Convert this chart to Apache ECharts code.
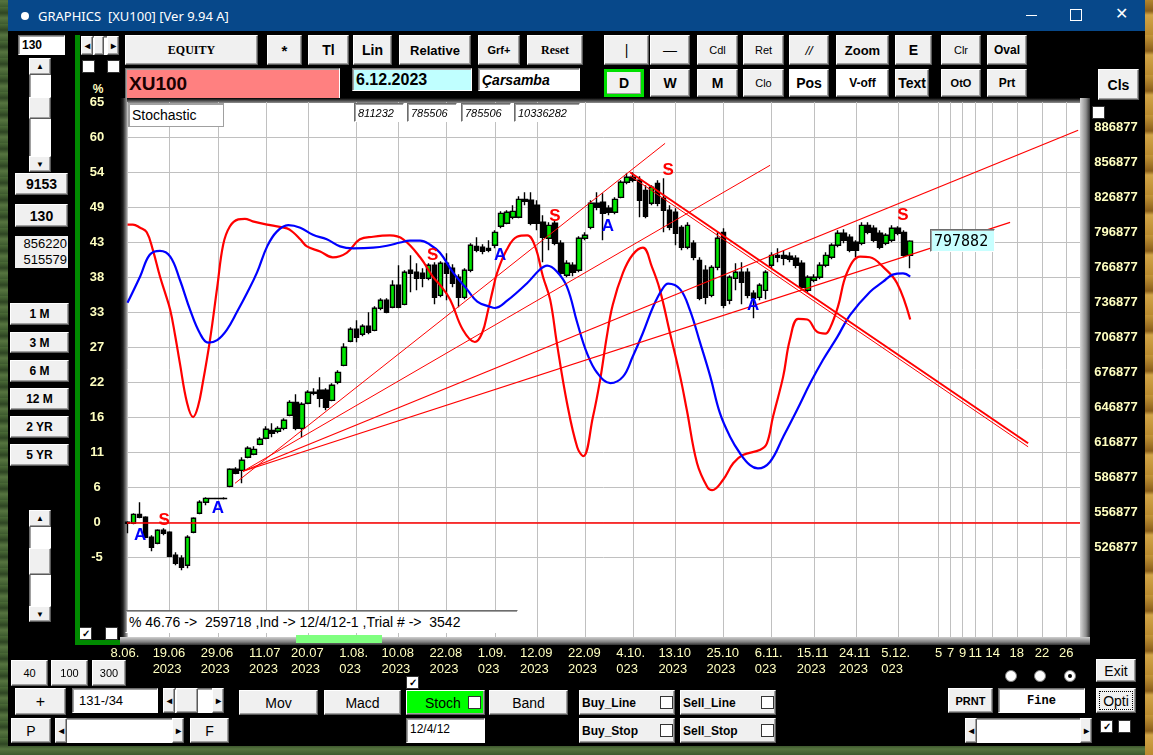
<!DOCTYPE html>
<html><head><meta charset="utf-8">
<script src="https://cdn.jsdelivr.net/npm/echarts@6/dist/echarts.min.js"></script>
<style>
html,body{margin:0;padding:0;width:1153px;height:755px;overflow:hidden;background:#000;}
#desk{position:absolute;left:0;top:0;width:1153px;height:755px;
 background:repeating-linear-gradient(0deg,#3d5a2e 0,#56743f 6px,#2e4523 11px,#4a6a36 17px);}
#rightdesk{position:absolute;left:1145px;top:0;width:8px;height:755px;
 background:repeating-linear-gradient(0deg,#b98a2f 0,#d1a447 20px,#8a5f1a 24px,#c49638 40px);}
#win{position:absolute;left:8px;top:0;width:1137px;height:746px;background:#000;}
#title{position:absolute;left:8px;top:0;width:1137px;height:31px;background:#07488a;color:#fff;}
#ui{position:absolute;left:0;top:0;width:1153px;height:755px;z-index:1;}
#chart{position:absolute;left:0;top:0;width:1153px;height:755px;z-index:5;}
#ov{position:absolute;left:0;top:0;width:1153px;height:755px;z-index:6;pointer-events:none;}
.b,.x,.f,.c{position:absolute;box-sizing:border-box;display:flex;align-items:center;justify-content:center;
 font:bold 13px 'Liberation Sans',Arial,sans-serif;color:#000;white-space:pre;overflow:hidden;}
.b{background:#f0f0f0;border:1px solid;border-color:#ffffff #5a5a5a #5a5a5a #ffffff;box-shadow:inset -1px -1px 0 #a0a0a0;}
.x{background:#fff;border:1px solid;border-color:#6d6d6d #ffffff #ffffff #6d6d6d;box-shadow:inset 1px 1px 0 #a0a0a0;justify-content:flex-start;padding-left:3px;}
.f{background:#f0f0f0;}
.c{background:#fff;border:1px solid #333;font-size:10px;line-height:10px;}
.r{position:absolute;box-sizing:border-box;border-radius:50%;background:#fff;border:1px solid #808080;}
</style></head>
<body>
<div id="desk"></div><div id="rightdesk"></div>
<div id="win"></div>
<div id="title">
 <div style="position:absolute;left:13px;top:12px;width:8px;height:8px;border-radius:50%;background:#fff;"></div>
 <div style="position:absolute;left:30px;top:7px;font:13px 'Noto Sans','Open Sans',sans-serif;white-space:pre;">GRAPHICS  [XU100] [Ver 9.94 A]</div>
 <div style="position:absolute;left:1018px;top:15px;width:11px;height:1px;background:#fff;"></div>
 <div style="position:absolute;left:1062px;top:9px;width:10px;height:10px;border:1px solid #fff;"></div>
 <div style="position:absolute;left:1107px;top:4px;font:16px 'DejaVu Sans',sans-serif;color:#fff;">✕</div>
</div>
<div id="ui"></div>
<div id="chart"></div>
<div id="ov"></div>
<script>
// ===== DATA =====
// one bar per trading day from 8.06.2023 (bar index 0) to 6.12.2023 (bar index 130)
const opens  = [556900,556000,563700,561200,544000,538900,550000,548300,528600,526000,520000,548300,564600,574000,577400,577300,577400,587700,602300,601400,612600,615200,623700,628900,635700,634900,637400,648600,659700,637400,658900,668300,670000,670000,661400,676900,691400,712000,722300,718000,724900,721400,740300,747200,741200,760000,743700,772900,771200,770300,766000,777200,751400,778900,774600,766900,749700,772900,793400,792600,791700,794300,810600,813200,818300,818300,833700,832900,828600,814000,800300,813200,796000,768600,777200,772900,800300,809700,830300,831200,826000,822600,835400,848300,852600,850000,841400,830300,847400,834600,824300,822600,809700,792600,796000,781400,772900,751400,775400,805400,747200,766000,771200,771200,753200,749700,755700,777200,785700,785700,784900,783200,778900,755700,764300,766900,777200,784000,794300,804600,801200,796900,796000,811400,808900,804600,796000,798600,808900,805400,785700];
const closes = [556000,563700,561200,544000,535400,550000,547400,527700,521700,518300,544000,560300,574000,577400,577300,577400,577300,602300,598900,610000,620300,619400,628000,636600,633200,637400,644300,659700,637400,658000,668300,667400,663200,655400,674300,685400,706900,722300,715400,724900,719700,740300,747200,736900,760000,741200,771200,770300,766000,766000,777200,749700,778900,770300,761700,749700,772900,794300,790000,789200,790000,805400,821700,822600,823400,833700,832000,813200,813200,801200,811400,796000,770300,778900,771200,800300,802900,830300,826900,821700,822600,833700,848300,852600,850000,832900,819200,844000,830300,824300,809700,804600,792600,811400,784000,748900,749700,775400,800300,742900,766900,771200,762600,751400,748900,760000,771200,785700,784000,783200,782300,777200,758300,766900,766900,777200,785700,794300,804600,798600,790000,790000,811400,805400,798600,792600,802900,808900,804600,785700,797882];
const highs  = [557700,564600,574000,562000,545700,550900,551700,549200,531200,528600,545700,561200,575700,578300,577900,577900,578300,603200,604000,612600,622000,622000,629700,639200,641700,639200,646000,661400,666600,659700,670000,671700,681200,671700,676000,687200,710300,724000,730000,726600,736900,742000,748900,748900,764300,777200,772900,785700,778900,774600,778900,779700,780600,787400,778000,769400,774600,796000,801200,795200,798600,807200,823400,824300,828600,836300,839700,839700,832900,820000,814000,815700,798600,781400,779700,802000,805400,832900,839700,838900,828600,835400,850000,856000,856900,853400,845700,845700,850000,851700,828600,826000,811400,814000,798600,784000,777200,777200,805400,808900,768600,778900,779700,774600,755700,761700,772900,788300,791700,790000,788300,785700,781400,768600,769400,779700,788300,796000,807200,808000,803700,798600,814000,814000,811400,807200,804600,811400,810600,807200,798600];
const lows   = [547400,555200,560300,543200,532000,538000,545700,526900,520000,515700,517400,547400,563700,571400,577000,577000,576500,586900,598000,590300,611700,614300,622900,628000,629700,633200,635700,647700,635700,629700,658000,665700,655400,652900,660600,675200,690600,711200,711200,716300,718000,720600,738600,736000,740300,740300,742900,754000,755700,758300,764300,743700,749700,747200,758300,741200,748000,771200,788300,786600,788300,791700,808900,812300,816600,817400,828600,811400,807200,779700,790000,794300,767700,766900,767700,771200,798600,808000,824300,798600,820000,820900,834600,846600,848300,818300,817400,828600,827700,805400,807200,794300,790000,790900,781400,747200,743700,749700,772900,740300,743700,755700,743700,748900,731700,747200,748000,774600,779700,777200,779700,774600,755700,754000,762600,765200,775400,782300,792600,796000,788300,784000,794300,803700,796900,790900,794300,796900,802900,784000,774600];
// Stochastic lines: [bar index, %]
const stochRed = [[0,46.4],[0.9,46.4],[2.1,45.9],[3.2,45.2],[4.2,42.5],[5.4,38.3],[6.2,35.9],[7.1,33.1],[7.9,29.2],[8.7,24.8],[9.9,18.6],[10.9,16.4],[11.7,18.0],[12.5,21.7],[13.7,28.4],[14.9,36.6],[15.9,43.3],[17.0,46.1],[18.4,47.2],[19.5,47.3],[20.8,46.9],[23.7,46.3],[26.5,45.8],[27.5,45.2],[28.7,44.1],[29.8,43.0],[32.0,42.2],[34.1,41.3],[36.4,42.0],[38.6,44.1],[40.8,44.5],[43.6,44.7],[45.8,44.1],[48.6,41.3],[50.7,38.3],[51.9,37.0],[53.6,34.7],[55.7,30.0],[57.7,28.1],[58.9,29.5],[59.9,33.1],[60.7,36.3],[61.4,38.9],[63.0,42.5],[64.7,44.5],[66.4,44.7],[67.7,43.0],[69.0,38.3],[70.2,34.7],[71.3,28.0],[73.0,18.6],[74.7,11.7],[75.7,10.3],[77.3,16.4],[78.5,22.2],[79.6,28.9],[80.6,33.9],[82.3,38.9],[83.9,41.7],[85.6,42.8],[87.1,39.8],[88.4,36.3],[90.1,29.5],[91.8,22.7],[92.9,17.5],[94.6,9.2],[96.3,5.5],[97.1,5.0],[98.9,6.6],[100.6,9.2],[102.2,10.5],[105.1,11.3],[106.2,12.3],[107.2,16.4],[108.9,22.7],[110.0,28.4],[111.4,31.7],[112.9,31.6],[114.5,29.7],[115.9,29.4],[116.7,30.3],[118.0,33.6],[119.5,38.9],[121.7,41.4],[123.3,41.3],[125.5,39.8],[127.8,37.3],[130.0,31.6]];
const stochBlue = [[0,34.2],[2.1,38.3],[3.7,41.7],[5.4,42.3],[7.1,41.4],[8.7,37.8],[10.4,33.1],[12.0,29.5],[13.4,28.0],[14.9,28.4],[16.5,30.0],[18.2,32.8],[19.9,35.8],[21.5,38.9],[23.2,43.0],[24.8,45.3],[26.7,46.3],[28.7,45.9],[30.8,44.8],[33.1,44.1],[35.3,43.0],[37.5,42.7],[40.8,42.8],[43.1,43.1],[45.3,43.6],[46.9,43.9],[48.6,43.9],[50.2,43.3],[51.9,42.0],[54.1,38.9],[56.4,36.3],[58.1,34.4],[60.2,33.6],[61.0,33.4],[63.0,34.5],[66.4,37.3],[68.5,39.4],[69.7,40.0],[71.3,39.1],[73.0,36.7],[74.7,31.1],[76.3,26.4],[78.0,23.3],[80.2,21.7],[82.3,22.7],[83.9,25.8],[85.6,29.5],[87.3,33.6],[88.8,36.3],[89.8,37.2],[91.8,36.3],[93.4,33.1],[95.1,28.0],[96.8,22.7],[98.4,17.0],[100.1,13.3],[101.7,10.8],[103.4,8.9],[104.7,8.4],[106.7,9.4],[108.9,13.3],[111.2,17.5],[113.4,21.7],[115.5,25.3],[117.9,28.9],[120.0,32.3],[123.3,35.9],[125.5,37.5],[127.1,38.6],[128.8,38.8],[130.0,38.3]];
// Signal markers: [bar index, price]
const buyMarks  = [[2.1,545700],[15.0,568900],[61.9,785700],[79.8,810600],[103.9,742900]];
const sellMarks = [[6.1,558600],[50.7,785700],[71.0,819200],[89.8,858600],[128.8,820000]];
// Drawn trend lines: [start bar, start price, end bar, end price, width]
const trendLines = [
  [17.86,590300,89.29,881700,1],
  [19.19,600600,106.73,862900,1],
  [19.19,600600,157.89,892900,1.2],
  [19.19,600600,146.59,814000,1.2],
  [83.47,856900,149.58,624600,2],
  [83.47,853900,149.58,621600,1]
];
// Axis ticks / labels
const priceTicks = [886877,856877,826877,796877,766877,736877,706877,676877,646877,616877,586877,556877,526877];
const pctLabels = ['65','60','54','49','43','38','33','27','22','16','11','6','0','-5'];
const gridIdx = [0,7,15,23,30,38,45,53,61,68,76,84,91,99,107,114,121,128,134.7,136.7,138.7,140.8,143.7,147.7,151.9,155.9];
const dateRow1 = ['8.06.','19.06','29.06','11.07','20.07','1.08.','10.08','22.08','1.09.','12.09','22.09','4.10.','13.10','25.10','6.11.','15.11','24.11','5.12.','5','7','9','11','14','18','22','26'];
const dateRow2 = ['23','2023','2023','2023','2023','023','2023','2023','023','2023','2023','023','2023','2023','023','2023','2023','023','','','','','','','',''];

// ===== UI CHROME =====
const UI = document.getElementById('ui'), OV = document.getElementById('ov');
function el(parent, cls, x, y, w, h, txt, css){
  const d = document.createElement('div'); d.className = cls;
  d.style.cssText = 'left:'+x+'px;top:'+y+'px;width:'+w+'px;height:'+h+'px;'+(css||'');
  if (txt != null) d.textContent = txt; parent.appendChild(d); return d;
}
const NB = 'font-weight:normal;';
const buttons = [
 ['EQUITY',125,35,133,30,"font:bold 12px 'Liberation Serif',serif;"],['*',267,35,35,30,'font-size:15px;'],
 ['Tl',308,35,41,30,'font-size:14px;'],['Lin',353,35,39,30,'font-size:14px;'],['Relative',399,35,72,30,'font-size:13px;'],
 ['Grf+',478,35,42,30,'font-size:11px;'],['Reset',527,35,56,30,"font:bold 12px 'Liberation Serif',serif;"],
 ['|',604,35,45,30,NB+'font-size:14px;'],['—',650,35,40,30,NB+'font-size:14px;'],['Cdl',697,35,41,30,NB+'font-size:11px;'],
 ['Ret',743,35,41,30,NB+'font-size:11px;'],['//',789,35,40,30,NB+'font-style:italic;font-size:13px;'],
 ['Zoom',836,35,53,30,'font-size:13px;'],['E',895,35,37,30,'font-size:14px;'],['Clr',941,35,40,30,NB+'font-size:11px;'],
 ['Oval',987,35,40,30,'font-size:12px;'],
 ['D',604,69,40,28,'border:3px solid #00e000;font-size:14px;'],['W',650,69,40,28,'font-size:14px;'],['M',697,69,41,28,'font-size:14px;'],
 ['Clo',743,69,41,28,NB+'font-size:11px;'],['Pos',789,69,40,28,'background:#fff;font-size:14px;'],
 ['V-off',836,69,53,28,'background:#fff;font-size:12px;'],['Text',895,69,34,28,'font-size:14px;'],
 ['OtO',941,69,40,28,'font-size:11px;'],['Prt',987,69,40,28,'font-size:12px;'],['Cls',1098,69,41,31,'font-size:14px;'],
 ['9153',15,173,53,22,'font-size:14px;'],['130',15,204,53,23,'font-size:14px;'],
 ['1 M',10,303,59,22,'font-size:12px;'],['3 M',10,332,59,21,'font-size:12px;'],['6 M',10,360,59,22,'font-size:12px;'],
 ['12 M',10,388,59,22,'font-size:12px;'],['2 YR',10,416,59,22,'font-size:12px;'],['5 YR',10,444,59,22,'font-size:12px;'],
 ['+',15,688,51,27,NB+'font-size:16px;'],['Mov',239,690,79,25,NB+'font-size:14px;'],['Macd',324,690,77,25,NB+'font-size:14px;'],
 ['Stoch',406,690,79,25,NB+'background:#00ff00;font-size:14px;justify-content:flex-start;padding-left:18px;'],
 ['Band',489,690,79,25,NB+'font-size:14px;'],
 ['Buy_Line',579,690,96,25,'font-size:12px;justify-content:flex-start;padding-left:2px;'],
 ['Sell_Line',680,690,96,25,'font-size:12px;justify-content:flex-start;padding-left:2px;'],
 ['Buy_Stop',579,718,96,25,'font-size:12px;justify-content:flex-start;padding-left:2px;'],
 ['Sell_Stop',680,718,96,25,'font-size:12px;justify-content:flex-start;padding-left:2px;'],
 ['P',11,718,40,25,NB+'font-size:14px;'],['F',190,718,39,25,NB+'font-size:14px;'],
 ['Exit',1096,659,40,23,NB+'font-size:14px;'],['PRNT',948,688,45,25,'font-size:11px;'],
 ['Opti',1096,688,40,25,NB+'font-size:14px;outline:1px dotted #000;outline-offset:-4px;']
];
buttons.forEach(b => el(UI,'b',b[1],b[2],b[3],b[4],b[0],b[5]));
// these three sit on top of the first date label, as in the original window
[['40',11,37],['100',51,37],['300',92,34]].forEach(b => el(OV,'b',b[1],660,b[2],26,b[0],NB+'font-size:11px;'));
// text boxes
el(UI,'x',18,35,47,20,'130','font-size:12px;');
el(UI,'x',72,688,86,25,'131-/34',NB+'font-size:13px;padding-left:6px;');
el(UI,'x',406,718,79,25,'12/4/12',NB+'font-size:12px;align-items:flex-start;padding-top:3px;');
el(UI,'x',998,688,87,25,'Fine',"font:bold 12px 'Liberation Mono',monospace;justify-content:center;padding-left:0;");
el(UI,'f',15,236,53,32,'856220\n515579','font-size:13px;font-weight:normal;justify-content:flex-end;padding-right:1px;line-height:16px;');
el(UI,'x',125,68,215,32,'XU100','background:#ff8080;font-size:19px;color:#1a0000;');
el(UI,'x',352,68,120,23,'6.12.2023','background:#c0ffff;font-size:16px;');
el(UI,'x',478,68,102,23,'Çarsamba','font-size:14px;font-style:italic;');
// scrollbars
function vscroll(x,y,h,thumbY,thumbH){
  el(UI,'x',x,y,22,h,null,'padding:0;');
  el(UI,'b',x,y,22,17,'▲','font-size:8px;');
  el(UI,'b',x,thumbY,22,thumbH,null);
  el(UI,'b',x,y+h-16,22,16,'▼','font-size:8px;');
}
vscroll(29,58,114,97,22); vscroll(29,510,112,548,27);
function hscroll(x,y,w,h,tx,tw){
  el(UI,'x',x,y,w,h,null,'padding:0;');
  el(UI,'b',x,y,12,h,'◂','font-size:10px;');
  if (tw) el(UI,'b',tx,y,tw,h,null);
  el(UI,'b',x+w-12,y,12,h,'▸','font-size:10px;');
}
hscroll(81,36,38,19,94,10); hscroll(163,688,61,25,176,22); hscroll(55,718,129,25,0,0); hscroll(965,718,127,25,0,0);
// checkboxes
[[82,60,''],[107,60,''],[1092,106,''],[79,627,'✓'],[105,627,''],[406,676,'✓'],[1100,720,'✓'],[1118,720,''],
 [468,696,''],[660,696,''],[761,696,''],[660,724,''],[761,724,'']].forEach(c=>el(UI,'c',c[0],c[1],13,13,c[2]));
// radio buttons
[1005,1034,1064].forEach((x,i)=>{const r=el(UI,'r',x,670,12,12,null); if(i===2){const d=document.createElement('div');d.style.cssText='position:absolute;left:3px;top:3px;width:4px;height:4px;border-radius:50%;background:#000;';r.appendChild(d);}});
// green frame line
el(UI,'f',75,35,5,610,null,'background:#008a00;');
el(UI,'f',75,640,46,5,null,'background:#008a00;');
el(UI,'f',90,82,16,14,'%','background:none;color:#ffffc0;font-size:12px;');
// chart panel (sunken frame)
el(UI,'f',120,98,970,547,null,'background:#fff;');
el(UI,'f',120,98,970,5,null,'background:linear-gradient(180deg,#000,#909090);');
el(UI,'f',120,98,7,547,null,'background:linear-gradient(90deg,#000,#202020 3px,#a0a0a0);');
el(UI,'f',1080,98,10,547,null,'background:linear-gradient(90deg,#d8d8d8,#8c8c8c 6px,#303030);');
el(UI,'f',120,637,970,8,null,'background:linear-gradient(180deg,#d0d0d0,#808080 5px,#303030);');
// overlays inside the chart
el(OV,'x',128,103,96,24,'Stochastic',NB+'font-size:14px;border-color:#a0a0a0;');
[['811232',354,50],['785506',407,50],['785506',461,50],['10336282',514,66]].forEach(n=>
  el(OV,'x',n[1],103,n[2],19,n[0],NB+'font-size:11px;font-style:italic;'));
el(OV,'x',930,229,65,23,'797882',NB+"background:#c8ffff;font:15px 'DejaVu Sans Mono','Liberation Mono',monospace;");
el(OV,'x',125,610,393,23,'% 46.76 ->  259718 ,Ind -> 12/4/12-1 ,Trial # ->  3542',NB+'font-size:14px;');
el(OV,'f',296,635,86,8,null,'background:#80ff80;');

// ===== CHART =====
const chart = echarts.init(document.getElementById('chart'), null, {width:1153, height:755});
const candleRows = opens.map((o,i)=>[i, o, closes[i], lows[i], highs[i]]);
const pctStep = 60/11;
const pctTicks = pctLabels.map((s,k)=>(12-k)*pctStep);
const LBL = '#ffffc0', FF = "'Liberation Sans',Arial,sans-serif";
const trendSeries = trendLines.map(t=>({
  type:'line', yAxisIndex:1, data:[[t[0],t[1]],[t[2],t[3]]], showSymbol:false, silent:true, z:4,
  lineStyle:{color:'#ff0000', width:t[4]}
}));
function markLabel(ch, col){
  return {show:true, position:'inside', formatter:ch, color:col, fontSize:17, fontWeight:'bold', fontFamily:FF,
          textBorderWidth:0, textBorderColor:'transparent', textShadowBlur:0};
}
chart.setOption({
  animation:false,
  backgroundColor:'transparent',
  grid:{left:127, top:102, width:953, height:535},
  xAxis:{type:'value', min:-0.08, max:158.2,
    axisLine:{show:false}, axisTick:{show:false, customValues:gridIdx},
    splitLine:{show:true, lineStyle:{color:'#c0c0c0', width:1}},
    axisLabel:{customValues:gridIdx, margin:8, showMinLabel:true, showMaxLabel:true,
      formatter:function(v){
        let k=0,best=1e9; gridIdx.forEach((g,j)=>{const d=Math.abs(g-v); if(d<best){best=d;k=j;}});
        if (dateRow2[k]==='') return '{b|'+dateRow1[k]+'}';
        return '{a|'+dateRow1[k]+'}\n{a|'+dateRow2[k]+'}';
      },
      rich:{a:{width:34, align:'left', color:LBL, fontSize:13, lineHeight:16, fontFamily:FF},
            b:{color:LBL, fontSize:13, lineHeight:16, fontFamily:FF}}}
  },
  yAxis:[
    {type:'value', position:'left', min:-17.875, max:65.5,
     axisLine:{show:false}, axisTick:{show:false, customValues:pctTicks}, splitLine:{show:false},
     axisLabel:{customValues:pctTicks, margin:30, align:'center', color:LBL, fontWeight:'bold', fontSize:13, fontFamily:FF,
       showMinLabel:true, showMaxLabel:true,
       formatter:function(v){ const k = 12 - Math.round(v/pctStep); return pctLabels[k]; }}},
    {type:'value', position:'right', min:458563, max:917134,
     axisLine:{show:false}, axisTick:{show:false, customValues:priceTicks},
     splitLine:{show:true, lineStyle:{color:'#c0c0c0', width:1}},
     axisLabel:{customValues:priceTicks, margin:36, align:'center', verticalAlign:'bottom', padding:[0,0,3,0],
       color:LBL, fontWeight:'bold', fontSize:13, fontFamily:FF, showMinLabel:true, showMaxLabel:true,
       formatter:function(v){ return String(Math.round(v)); }}}
  ],
  series:[
    {type:'candlestick', yAxisIndex:1, data:candleRows, encode:{x:0, y:[1,2,3,4]}, barWidth:5, z:2,
     itemStyle:{color:'#00e600', color0:'#000000', borderColor:'#000000', borderColor0:'#000000', borderWidth:1.4}},
    {type:'line', yAxisIndex:0, data:stochRed, smooth:0.4, showSymbol:false, z:3,
     lineStyle:{color:'#ff0000', width:2.2},
     markLine:{silent:true, symbol:['none','none'], label:{show:false}, data:[{yAxis:0}],
       lineStyle:{color:'#ff0000', width:1.6, type:'solid'}}},
    {type:'line', yAxisIndex:0, data:stochBlue, smooth:0.4, showSymbol:false, z:3,
     lineStyle:{color:'#0000ff', width:2.2}},
    ...trendSeries,
    {type:'scatter', yAxisIndex:1, data:buyMarks, symbolSize:1, itemStyle:{color:'#0000ff', opacity:1}, z:6,
     label:markLabel('A','#0000ff'), emphasis:{disabled:true}},
    {type:'scatter', yAxisIndex:1, data:sellMarks, symbolSize:1, itemStyle:{color:'#ff0000', opacity:1}, z:6,
     label:markLabel('S','#ff0000'), emphasis:{disabled:true}}
  ]
});
</script>
</body></html>
